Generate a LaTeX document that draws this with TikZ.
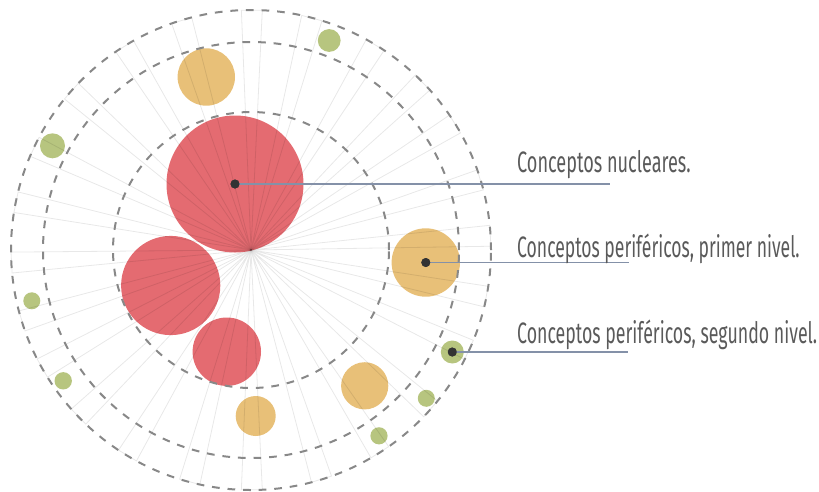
\documentclass[tikz,border=0pt]{standalone}
\usepackage{fontspec}
\setmainfont{Fira Sans}
\usepackage{graphicx}
\definecolor{cRed}{HTML}{E46B71}
\definecolor{cOrange}{HTML}{E8C078}
\definecolor{cGreen}{HTML}{B7C57F}
\definecolor{cRing}{HTML}{888888}
\definecolor{cLead}{HTML}{8491A8}
\definecolor{cDot}{HTML}{333333}
\definecolor{cText}{HTML}{5A5A5A}
\newsavebox\lblbox
\newcommand\fitw[2]{\sbox\lblbox{#2}\pgfmathsetmacro\fitsx{#1/\the\wd\lblbox}\scalebox{\fitsx}[1]{\usebox\lblbox}}
\tikzset{
  bub/.style={circle, inner sep=0pt, draw=none},
  wedgeline/.style={draw=black, draw opacity=0.09, line width=0.8pt, line join=miter},
  ring/.style={draw=cRing, line width=2pt, dash pattern=on 7.7pt off 7.9pt},
  leader/.style={draw=cLead, line width=1.1pt},
  dotn/.style={circle, fill=cDot, inner sep=0pt, minimum size=9pt},
  lbl/.style={anchor=base west, inner sep=0pt, text=cText, font=\fontsize{29.5}{34}\selectfont}
}
\begin{document}
\begin{tikzpicture}[x=1pt,y=-1pt]
\useasboundingbox (0,0) rectangle (819,491);
\coordinate (ctr) at (251,250);
% bubbles
\node[bub, fill=cRed, minimum size=137pt] (r1) at (235,184) {};
\node[bub, fill=cRed, minimum size=99.2pt] (r2) at (170.7,285.5) {};
\node[bub, fill=cRed, minimum size=68.4pt] (r3) at (226.8,351.7) {};
\node[bub, fill=cOrange, minimum size=57.4pt] (o1) at (206.3,77) {};
\node[bub, fill=cOrange, minimum size=68.4pt] (o2) at (425.8,262.5) {};
\node[bub, fill=cOrange, minimum size=47.2pt] (o3) at (364.7,385.8) {};
\node[bub, fill=cOrange, minimum size=40pt] (o4) at (255.7,416) {};
\node[bub, fill=cGreen, minimum size=22.8pt] (g1) at (329.2,40.5) {};
\node[bub, fill=cGreen, minimum size=25pt] (g2) at (52.5,145.8) {};
\node[bub, fill=cGreen, minimum size=17pt] (g3) at (31.8,300.8) {};
\node[bub, fill=cGreen, minimum size=17.4pt] (g4) at (63.2,380.8) {};
\node[bub, fill=cGreen, minimum size=23pt] (g5) at (452.3,352) {};
\node[bub, fill=cGreen, minimum size=17pt] (g6) at (426.3,398.3) {};
\node[bub, fill=cGreen, minimum size=17.2pt] (g7) at (379,435.8) {};
% wedges
\foreach \a in {0.2,14.7,31.2,45.7,58.3,73,86.6,101.2,114.6,131.5,147.5,162.9,179.8,194.8,211,226,240.5,252.8,267,281.5,295.5,311.5,328.2,343.2}{
  \draw[wedgeline] (ctr) -- ({251+240*sin(\a-2.5)},{250-240*cos(\a-2.5)}) -- ({251+240*sin(\a+2.5)},{250-240*cos(\a+2.5)}) -- cycle;
}
% dashed rings
\draw[ring] (ctr) circle[radius=240pt];
\draw[ring] (ctr) circle[radius=208pt];
\draw[ring] (ctr) circle[radius=138pt];
% leaders
\node[dotn] (d1) at (r1.center) {};
\node[dotn] (d2) at (o2.center) {};
\node[dotn] (d3) at (g5.center) {};
\coordinate (e1) at (610,184);
\coordinate (e2) at (629,262.5);
\coordinate (e3) at (628,352);
\draw[leader] (d1.center) -- (e1);
\draw[leader] (d2.center) -- (e2);
\draw[leader] (d3.center) -- (e3);
\node[dotn] at (r1.center) {};
\node[dotn] at (o2.center) {};
\node[dotn] at (g5.center) {};
% labels
\node[lbl] (t1) at (517,172) {\fitw{173.5}{Conceptos nucleares.}};
\node[lbl] (t2) at (517,257.5) {\fitw{282.5}{Conceptos periféricos, primer nivel.}};
\node[lbl] (t3) at (517,343) {\fitw{300}{Conceptos periféricos, segundo nivel.}};
\end{tikzpicture}
\end{document}
